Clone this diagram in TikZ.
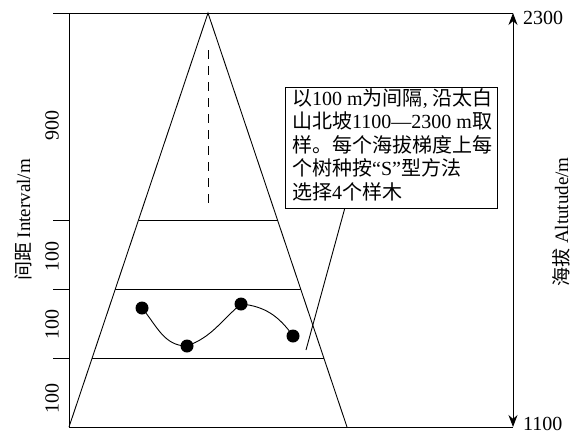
\documentclass[tikz,border=0pt]{standalone}
\usepackage{fontspec}
\setmainfont{Liberation Serif}
\newfontfamily\cj{Noto Sans CJK SC}
\usetikzlibrary{calc,arrows.meta}
\begin{document}
\begin{tikzpicture}[x=1pt,y=-1pt,
  ln/.style={line width=0.9pt},
  num/.style={font=\fontsize{20}{20}\selectfont, rotate=90},
  alt/.style={font=\fontsize{20}{20}\selectfont, anchor=base west, inner sep=0pt},
  dot/.style={circle,fill=black,inner sep=0pt,minimum size=13pt},
  lbl/.style={font=\fontsize{19}{19}\selectfont, rotate=90}]
\useasboundingbox (0,0) rectangle (575,431);
% frame coordinates
\coordinate (apex) at (208,13);
\coordinate (bl) at (69,427);
\coordinate (br) at (347,427);
\coordinate (tl) at (53,13);
\coordinate (tr) at (513,13);
\coordinate (bend) at (513,427);
% triangle
\draw[ln] (bl) -- (apex) -- (br);
% horizontal lines
\draw[ln] (tl) -- (tr);
\draw[ln] (bl) -- (bend);
\draw[ln] (tl -| bl) -- (bl);
\foreach \t/\n in {0.5/a,0.6667/b,0.8333/c}{
  \coordinate (L\n) at ($(apex)!\t!(bl)$);
  \coordinate (R\n) at ($(apex)!\t!(br)$);
  \draw[ln] (L\n) -- (R\n);
  \draw[ln] (L\n -| tl) -- (L\n -| bl);
}
% dashed centre line
\coordinate (ds) at (208,50);
\coordinate (de) at (208,205);
\draw[ln,dash pattern=on 9pt off 7pt] (ds) -- (de);
% right altitude arrow
\draw[line width=0.9pt,{Stealth[length=12pt,width=9pt]}-{Stealth[length=12pt,width=9pt]}] (tr) -- (bend);
\node[alt] (h1) at (523,24) {2300};
\node[alt] (h2) at (523,430.5) {1100};
\node[lbl] (ralt) at (561,222) {{\cj 海拔} Altutude/m};
\node[lbl] (lint) at (23,220) {{\cj 间距} Interval/m};
% interval numbers
\node[num] (n900) at (52,125) {900};
\node[num] (n1) at (52,256) {100};
\node[num] (n2) at (52,324) {100};
\node[num] (n3) at (52,398) {100};
% sample dots
\node[dot] (d1) at (142,308) {};
\node[dot] (d2) at (187,346) {};
\node[dot] (d3) at (241,304) {};
\node[dot] (d4) at (293,336) {};
\draw[line width=0.9pt] (d1.center) to[out=-50,in=180] (d2.center) to[out=20,in=220] (d3.center) to[out=-5,in=125] (d4.center);
% callout box
\node[draw,line width=0.9pt,fill=white,anchor=north west,minimum width=212pt,minimum height=121pt,inner sep=0pt] (box) at (285,87) {};
\node[anchor=north west,align=left,inner sep=0pt,font=\fontsize{20}{23.5}\selectfont] (txt) at (292,88) {%
{\cj 以}100 m{\cj 为间隔}, {\cj 沿太白}\\
{\cj 山北坡}1100—2300 m{\cj 取}\\
{\cj 样。每个海拔梯度上每}\\
{\cj 个树种按}“S”{\cj 型方法}\\
{\cj 选择}4{\cj 个样木}};
\coordinate (ptr) at (306,350);
\draw[line width=0.9pt] ($(box.south west)!0.28!(box.south east)$) -- (ptr);
\end{tikzpicture}
\end{document}
